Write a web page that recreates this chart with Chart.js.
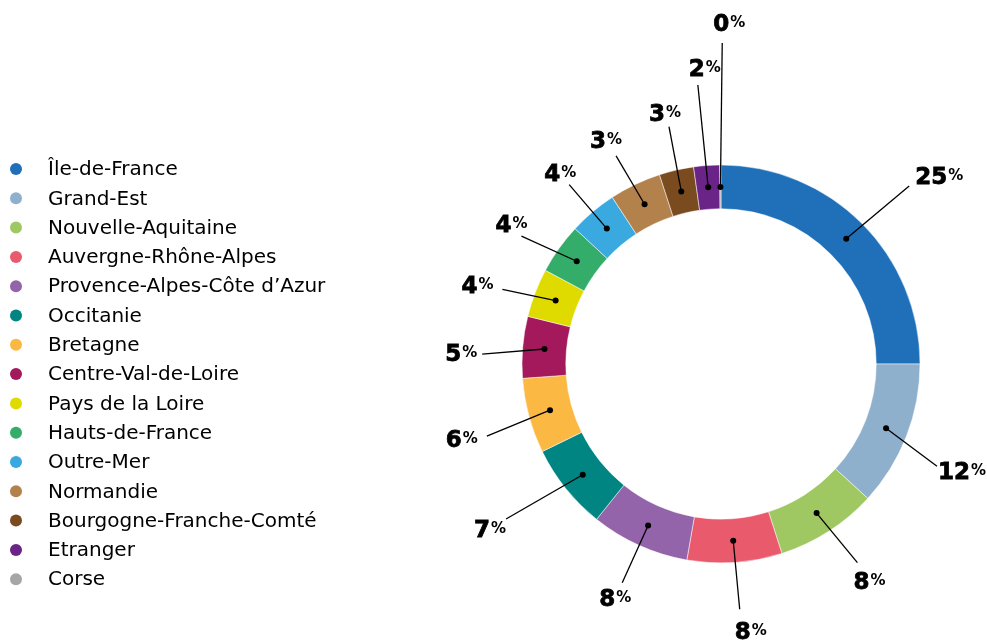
<!DOCTYPE html>
<html>
<head>
<meta charset="utf-8">
<script src="https://cdn.jsdelivr.net/npm/chart.js@4.4.1/dist/chart.umd.min.js"></script>
<style>
  body { margin: 0; background: #fff; }
  .wrap { width: 987px; height: 644px; }
</style>
</head>
<body>
<div class="wrap"><canvas id="graph"></canvas></div>
<script>
var regions = ['Île-de-France', 'Grand-Est', 'Nouvelle-Aquitaine', 'Auvergne-Rhône-Alpes',
  'Provence-Alpes-Côte d\u2019Azur', 'Occitanie', 'Bretagne', 'Centre-Val-de-Loire',
  'Pays de la Loire', 'Hauts-de-France', 'Outre-Mer', 'Normandie',
  'Bourgogne-Franche-Comté', 'Etranger', 'Corse'];

// share of each slice
var shares = [25, 11.8, 8.25, 7.7, 8, 7, 6.1, 5, 3.95, 4.1, 3.9, 4.2, 2.8, 2.1, 0.1];

// percentages as printed next to the ring
var shown = [25, 12, 8, 8, 8, 7, 6, 5, 4, 4, 4, 3, 3, 2, 0];

var colors = ['#1f70b8', '#8eb0cc', '#a0c862', '#ea5a6d', '#9364a9', '#008582', '#fbb843',
  '#a3195b', '#dfdb00', '#33ad69', '#3aa9e0', '#b3814c', '#7b4b20', '#6a2386', '#a6a6a6'];

// leader lines: radius where each stops, small turn (deg) off the slice middle,
// and where the label sits from the line end
var lineEnd = [259, 239, 241, 246, 240, 265, 245, 239, 231, 237, 235, 233, 243, 280, 321];
var lineTurn = [1.6, 4.1, -1.8, -0.4, 0, 2.9, -2, -2.5, -2.1, -2.8, -0.1, -1.2, 0.6, -0.6, 0.4];
var labelShift = [[30, -11], [25, 4], [12, 18], [11, 21], [-7, 15], [-16, 9], [-25, 2], [-21, -2],
  [-25, -5], [-10, -13], [-9, -12], [-10, -16], [-4, -14], [7, -17], [7, -21]];

var numFont = 'bold 23px "DejaVu Sans"';
var pctFont = 'bold 15px "DejaVu Sans"';

const leaderLabels = {
  id: 'leaderLabels',
  afterDatasetsDraw(chart) {
    const ctx = chart.ctx;
    const arcs = chart.getDatasetMeta(0).data;
    ctx.save();
    arcs.forEach((arc, i) => {
      const p = arc.getProps(['x', 'y', 'startAngle', 'endAngle', 'innerRadius', 'outerRadius'], true);
      const a = (p.startAngle + p.endAngle) / 2;
      const b = a + lineTurn[i] * Math.PI / 180;
      const r0 = (p.innerRadius + p.outerRadius) / 2;
      const x0 = p.x + Math.cos(a) * r0, y0 = p.y + Math.sin(a) * r0;
      const x1 = p.x + Math.cos(b) * lineEnd[i], y1 = p.y + Math.sin(b) * lineEnd[i];

      ctx.strokeStyle = '#000';
      ctx.lineWidth = 1.3;
      ctx.beginPath();
      ctx.moveTo(x0, y0);
      ctx.lineTo(x1, y1);
      ctx.stroke();
      ctx.fillStyle = '#000';
      ctx.beginPath();
      ctx.arc(x0, y0, 3, 0, Math.PI * 2);
      ctx.fill();

      const num = String(shown[i]);
      ctx.font = numFont;
      const wn = ctx.measureText(num).width;
      ctx.font = pctFont;
      const wp = ctx.measureText('%').width;
      const w = wn + 1 + wp;
      const cx = x1 + labelShift[i][0], cy = y1 + labelShift[i][1];
      const left = cx - w / 2, base = cy + 8.5;
      ctx.textBaseline = 'alphabetic';
      ctx.lineWidth = 0.8;
      ctx.font = numFont;
      ctx.fillText(num, left, base);
      ctx.strokeText(num, left, base);
      ctx.font = pctFont;
      ctx.fillText('%', left + wn + 1, base - 4);
    });
    ctx.restore();
  }
};

const sideLegend = {
  id: 'sideLegend',
  afterDraw(chart) {
    const ctx = chart.ctx;
    ctx.save();
    ctx.font = '20px "DejaVu Sans"';
    ctx.textBaseline = 'middle';
    regions.forEach((name, i) => {
      const y = 169 + i * 29.3;
      ctx.fillStyle = colors[i];
      ctx.beginPath();
      ctx.arc(16, y, 6, 0, Math.PI * 2);
      ctx.fill();
      ctx.fillStyle = '#000';
      ctx.fillText(name, 48, y + 1);
    });
    ctx.restore();
  }
};

new Chart(document.getElementById('graph'), {
  type: 'doughnut',
  plugins: [leaderLabels, sideLegend],
  data: {
    labels: regions,
    datasets: [{
      data: shares,
      backgroundColor: colors,
      borderColor: '#fff',
      borderWidth: 0.5,
      radius: 199,
      cutout: '78%'
    }]
  },
  options: {
    responsive: true,
    maintainAspectRatio: false,
    animation: false,
    layout: {
      padding: { left: 455, top: 84, right: 0, bottom: 0 }
    },
    plugins: {
      legend: { display: false },
      tooltip: { enabled: false }
    }
  }
});
</script>
</body>
</html>
